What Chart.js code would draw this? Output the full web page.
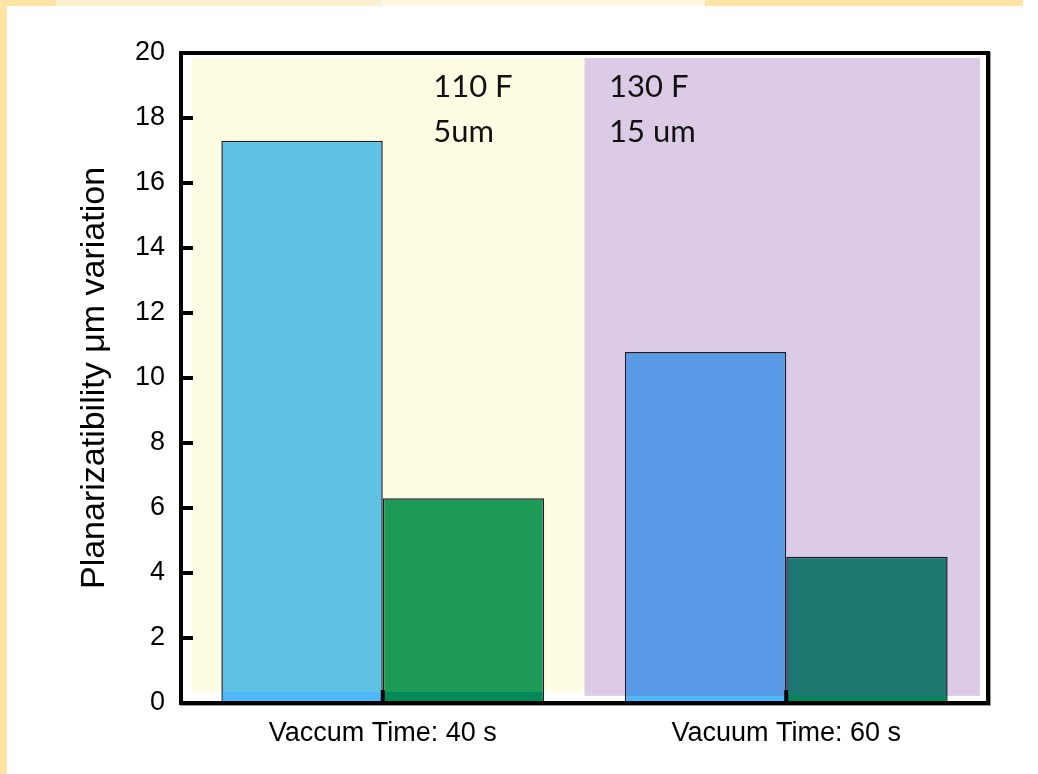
<!DOCTYPE html>
<html lang="en">
<head>
  <meta charset="UTF-8" />
  <title>Planarizability</title>
  <script src="https://cdn.jsdelivr.net/npm/chart.js"></script>
  <style>
    body { margin: 0; background: #fff; }
    #frame { position: absolute; left: 0; top: 0; width: 1038px; height: 774px; }
    #topStrip { position: absolute; left: 0; top: 0; width: 1038px; height: 6px;
      background: linear-gradient(to right, #ffe4a6 0, #ffe4a6 56px, #ffefd0 56px, #ffefd0 381px,
        #fff6e4 381px, #fff6e4 705px, #ffe4a6 705px, #ffe4a6 1023px, #fff 1023px); }
    #leftStrip { position: absolute; left: 0; top: 0; width: 7px; height: 774px; background: #ffe4a6; }
    #chartBox { position: absolute; left: 0; top: 0; width: 1038px; height: 774px; }
  </style>
</head>
<body>
  <div id="frame">
    <div id="topStrip"></div>
    <div id="leftStrip"></div>
    <div id="chartBox"><canvas id="chart" width="1038" height="774"></canvas></div>
  </div>

  <script>
    // data
    const categories = ['Vaccum Time: 40 s', 'Vacuum Time: 60 s'];
    const firstBars = [17.3, 10.8];
    const secondBars = [6.3, 4.5];
    const yTicks = [0, 2, 4, 6, 8, 10, 12, 14, 16, 18, 20];
    const noteLines = [['110 F', '5um'], ['130 F', '15 um']];

    // colours: what the bars look like under the shaded boxes, and below them
    const firstColors = ['#5fc1e4', '#589ae5'];
    const secondColors = ['#1e9a57', '#1e7872'];
    const bandColors = ['#4db8fc', '#008a5a'];
    const boxColors = ['#fefde4', '#dbcbe6'];

    // shaded boxes behind each group, in axis units (x = category index)
    const boxes = [
      { x0: -0.475, x1: 0.5, y0: 0.34, y1: 19.85 },
      { x0: 0.5, x1: 1.48, y0: 0.22, y1: 19.85 }
    ];

    const decor = {
      id: 'decor',
      beforeDatasetsDraw(chart) {
        const { ctx, scales: { x, y } } = chart;
        ctx.save();
        boxes.forEach((b, i) => {
          const left = x.getPixelForValue(b.x0), right = x.getPixelForValue(b.x1);
          const top = y.getPixelForValue(b.y1), bottom = y.getPixelForValue(b.y0);
          ctx.fillStyle = boxColors[i];
          ctx.fillRect(left, top, right - left, bottom - top);
        });
        ctx.restore();
      },
      afterDatasetsDraw(chart) {
        const { ctx, chartArea: a, scales: { x, y } } = chart;
        ctx.save();
        // bars show their own colour below the shaded boxes
        chart.data.datasets.forEach((ds, di) => {
          chart.getDatasetMeta(di).data.forEach((bar, i) => {
            const p = bar.getProps(['x', 'width', 'base'], true);
            const top = y.getPixelForValue(boxes[i].y0);
            ctx.fillStyle = bandColors[di];
            ctx.fillRect(p.x - p.width / 2 + 1.5, top, p.width - 3, p.base - top);
          });
        });
        // frame
        ctx.strokeStyle = '#999';
        ctx.lineWidth = 1;
        ctx.beginPath();
        ctx.moveTo(a.right + 2.5, a.top - 1);
        ctx.lineTo(a.right + 2.5, a.bottom + 2.5);
        ctx.lineTo(a.left - 1, a.bottom + 2.5);
        ctx.stroke();
        ctx.strokeStyle = '#000';
        ctx.lineWidth = 4;
        ctx.strokeRect(a.left, a.top, a.right - a.left, a.bottom - a.top);
        // inward ticks
        yTicks.forEach(v => {
          const py = y.getPixelForValue(v);
          ctx.beginPath();
          ctx.moveTo(a.left, py);
          ctx.lineTo(a.left + 12, py);
          ctx.stroke();
        });
        categories.forEach((c, i) => {
          const px = x.getPixelForValue(i);
          ctx.beginPath();
          ctx.moveTo(px, a.bottom);
          ctx.lineTo(px, a.bottom - 13);
          ctx.stroke();
        });
        // notes
        ctx.fillStyle = '#111';
        ctx.font = '31px Lato';
        ctx.textBaseline = 'alphabetic';
        const noteX = [0.125, 0.561];
        noteLines.forEach((lines, i) => {
          ctx.fillText(lines[0], x.getPixelForValue(noteX[i]), y.getPixelForValue(18.65));
          ctx.fillText(lines[1], x.getPixelForValue(noteX[i]), y.getPixelForValue(17.26));
        });
        ctx.restore();
      }
    };

    new Chart(document.getElementById('chart'), {
      type: 'bar',
      data: {
        labels: categories,
        datasets: [
          { data: firstBars, backgroundColor: firstColors, borderColor: '#1c1c2c', borderWidth: 1.5,
            categoryPercentage: 0.8, barPercentage: 1 },
          { data: secondBars, backgroundColor: secondColors, borderColor: '#1c1c2c', borderWidth: 1.5,
            categoryPercentage: 0.8, barPercentage: 1 }
        ]
      },
      options: {
        responsive: false,
        animation: false,
        layout: { padding: { left: 0, top: 53, right: 50, bottom: 0 } },
        plugins: { legend: { display: false }, tooltip: { enabled: false } },
        scales: {
          x: {
            grid: { display: false, drawTicks: false },
            border: { display: false },
            ticks: { color: '#000', padding: 14, font: { family: 'Liberation Sans', size: 27 } },
            afterFit(s) { s.height = 71; }
          },
          y: {
            min: 0, max: 20,
            afterBuildTicks(s) { s.ticks = yTicks.map(v => ({ value: v })); },
            grid: { display: false, drawTicks: false },
            border: { display: false },
            ticks: { color: '#000', padding: 16, font: { family: 'Liberation Sans', size: 27 } },
            title: {
              display: true,
              text: 'Planarizatibility \u03bcm variation',
              color: '#000',
              font: { family: 'Liberation Sans', size: 34 },
              padding: { top: 74, bottom: 0 }
            },
            afterFit(s) { s.width = 181; }
          }
        }
      },
      plugins: [decor]
    });
  </script>
</body>
</html>
